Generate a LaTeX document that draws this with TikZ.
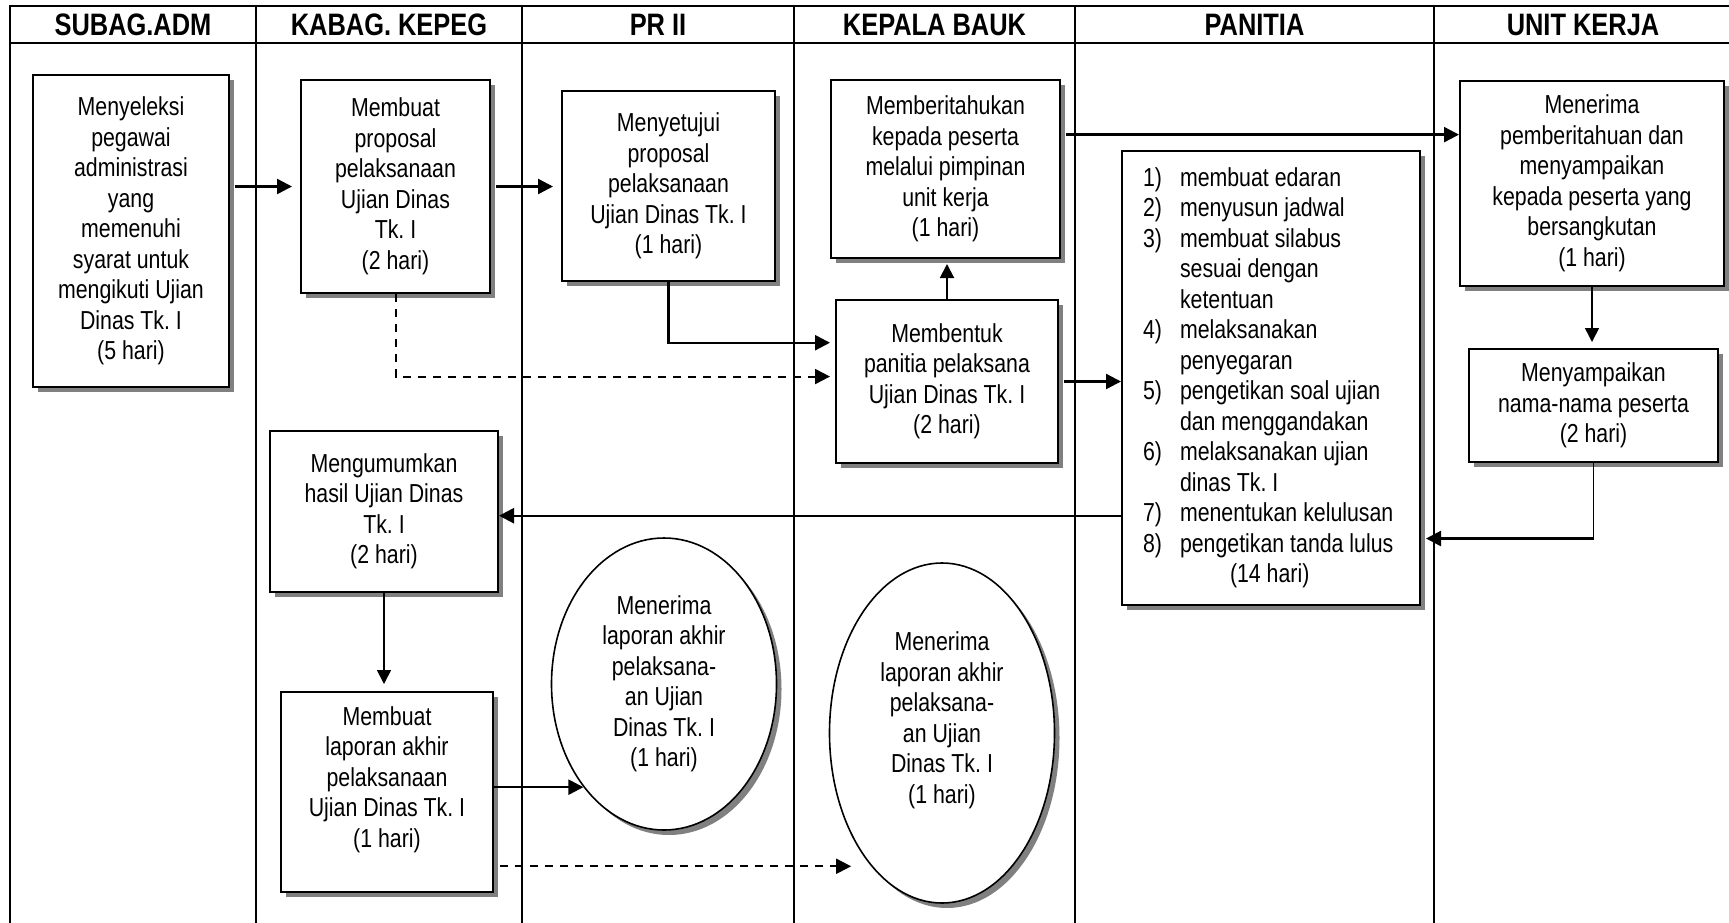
\documentclass[tikz,border=0pt]{standalone}
\usepackage{fontspec}
\setmainfont{Liberation Sans}[FakeStretch=0.82]
\usetikzlibrary{arrows.meta,shapes.geometric,shadows,calc}
\newcommand{\flowtext}{\frenchspacing\fontsize{13pt}{15.25pt}\selectfont}
\newcommand{\laneheadfont}{\fontsize{15.5pt}{18pt}\selectfont\bfseries}

\begin{document}
\begin{tikzpicture}[
  x=0.5pt, y=-0.5pt,
  lane/.style={line width=1pt},
  lanehead/.style={font=\laneheadfont, inner sep=0pt},
  boxshadow/.style={drop shadow={shadow xshift=2.5pt, shadow yshift=-2.5pt, fill=black!50, opacity=1}},
  stepbox/.style={draw, line width=1pt, fill=white, align=flush center, inner sep=0pt,
                  font=\flowtext, boxshadow},
  oval/.style={ellipse, draw, line width=0.8pt, fill=white, align=flush center, inner sep=0pt,
               font=\flowtext, boxshadow},
  flow/.style={-{Triangle[length=7.5pt,width=7.5pt]}, line width=1.2pt},
  flowthin/.style={-{Triangle[length=7pt,width=7pt]}, line width=0.8pt},
  flowdash/.style={-{Triangle[length=7.5pt,width=7.5pt]}, line width=1pt,
                   dash pattern=on 4pt off 3.5pt},
]
\useasboundingbox (0,0) rectangle (1729,922);
\clip (0,0) rectangle (1729,922);

% swimlane frame
\draw[lane] (10,940) -- (10,6) -- (1745,6);
\draw[lane] (10,43) -- (1745,43);
\foreach \x in {256,522,794,1075,1434}
  \draw[lane] (\x,6) -- (\x,940);

% lane titles
\node[lanehead] (hsub)   at (133,25)    {SUBAG.ADM};
\node[lanehead] (hkab)   at (389,25)    {KABAG. KEPEG};
\node[lanehead] (hpr)    at (658,25)    {PR II};
\node[lanehead] (hbauk)  at (934.5,25)  {KEPALA BAUK};
\node[lanehead] (hpan)   at (1254.5,25) {PANITIA};
\node[lanehead] (hunit)  at (1583,25)   {UNIT KERJA};

% process steps
\node[stepbox, minimum width=98pt, minimum height=156pt] (sel) at (131,231)
  {Menyeleksi\\pegawai\\administrasi\\yang\\memenuhi\\syarat untuk\\mengikuti Ujian\\Dinas Tk. I\\(5 hari)};

\node[stepbox, minimum width=94.5pt, minimum height=106.5pt] (prop) at (395.5,186.5)
  {Membuat\\proposal\\pelaksanaan\\Ujian Dinas\\Tk. I\\(2 hari)};

\node[stepbox, minimum width=106.5pt, minimum height=95pt] (setuju) at (668.5,186)
  {Menyetujui\\proposal\\pelaksanaan\\Ujian Dinas Tk. I\\(1 hari)};

\node[stepbox, minimum width=114.5pt, minimum height=89pt] (beritahu) at (945.5,169)
  {Memberitahukan\\kepada peserta\\melalui pimpinan\\unit kerja\\(1 hari)};

\node[stepbox, minimum width=111pt, minimum height=81.5pt] (bentuk) at (947,381.5)
  {Membentuk\\panitia pelaksana\\Ujian Dinas Tk. I\\(2 hari)};

\node[stepbox, align=flush left, text width=128pt, inner xsep=10.5pt,
      minimum width=149pt, minimum height=227pt] (panitia) at (1271,378)
  {\makebox[18.5pt][l]{1)}membuat edaran\\
   \makebox[18.5pt][l]{2)}menyusun jadwal\\
   \makebox[18.5pt][l]{3)}membuat silabus\\
   \hspace*{18.5pt}sesuai dengan\\
   \hspace*{18.5pt}ketentuan\\
   \makebox[18.5pt][l]{4)}melaksanakan\\
   \hspace*{18.5pt}penyegaran\\
   \makebox[18.5pt][l]{5)}pengetikan soal ujian\\
   \hspace*{18.5pt}dan menggandakan\\
   \makebox[18.5pt][l]{6)}melaksanakan ujian\\
   \hspace*{18.5pt}dinas Tk. I\\
   \makebox[18.5pt][l]{7)}menentukan kelulusan\\
   \makebox[18.5pt][l]{8)}pengetikan tanda lulus\\
   \hspace*{43.5pt}(14 hari)};

\node[stepbox, minimum width=132pt, minimum height=102.5pt] (terima) at (1592,183.5)
  {Menerima\\pemberitahuan dan\\menyampaikan\\kepada peserta yang\\bersangkutan\\(1 hari)};

\node[stepbox, minimum width=124.5pt, minimum height=56.5pt] (sampaikan) at (1593.5,405.5)
  {Menyampaikan\\nama-nama peserta\\(2 hari)};

\node[stepbox, minimum width=114pt, minimum height=80.5pt] (umum) at (384,511.5)
  {Mengumumkan\\hasil Ujian Dinas\\Tk. I\\(2 hari)};

\node[stepbox, minimum width=106pt, minimum height=100pt] (laporan) at (387,792)
  {Membuat\\laporan akhir\\pelaksanaan\\Ujian Dinas Tk. I\\(1 hari)\\\mbox{}};

\node[oval, minimum width=112.5pt, minimum height=146pt] (ellpr) at (664,684)
  {Menerima\\laporan akhir\\pelaksana-\\an Ujian\\Dinas Tk. I\\(1 hari)};

\node[oval, minimum width=112.5pt, minimum height=170pt] (ellbauk) at (942,733)
  {Menerima\\laporan akhir\\pelaksana-\\an Ujian\\Dinas Tk. I\\(1 hari)\\\mbox{}};

% connection points on box sides
\path ($(bentuk.north west)!0.265!(bentuk.south west)$)       coordinate (bentukA);
\path ($(bentuk.north west)!0.47!(bentuk.south west)$)        coordinate (bentukB);
\path ($(beritahu.north east)!0.309!(beritahu.south east)$)   coordinate (beritahuR);
\path ($(panitia.north east)!0.852!(panitia.south east)$)     coordinate (panitiaR);
\path ($(panitia.north west)!0.802!(panitia.south west)$)     coordinate (panitiaL);

% flows
\draw[flow, shorten <=2.5pt, shorten >=4pt] (sel.east |- prop.west) -- (prop.west);
\draw[flow, shorten <=2.5pt, shorten >=4pt] (prop.east) -- (prop.east -| setuju.west);
\draw[flow, shorten >=2.5pt] (setuju.south) |- (bentukA);
\draw[flowdash, shorten >=2.5pt] (prop.south) |- (bentukB);
\draw[flowthin, line width=1pt, shorten >=2.5pt] (bentuk.north) -- (bentuk.north |- beritahu.south);
\draw[flow, shorten <=2.5pt] (beritahuR) -- (beritahuR -| terima.west);
\draw[flow, shorten <=2.5pt] (bentuk.east) -- (bentuk.east -| panitia.west);
\draw[flowthin, shorten >=3pt] (terima.south) -- (terima.south |- sampaikan.north);
\draw[line width=0.8pt] (sampaikan.south) -- (sampaikan.south |- panitiaR);
\draw[flow, shorten >=2.5pt] (sampaikan.south |- panitiaR) -- (panitiaR);
\draw[flow] (panitiaL) -- (panitiaL -| umum.east);
\draw[flowthin, shorten >=3.5pt] (umum.south) -- (umum.south |- laporan.north);
\draw[flow] (laporan.east |- ellpr.232) -- (ellpr.232);
\draw[flowdash, shorten <=3pt, shorten >=10pt] (laporan.east |- ellbauk.242.6) -- (ellbauk.242.6);
\end{tikzpicture}
\end{document}
